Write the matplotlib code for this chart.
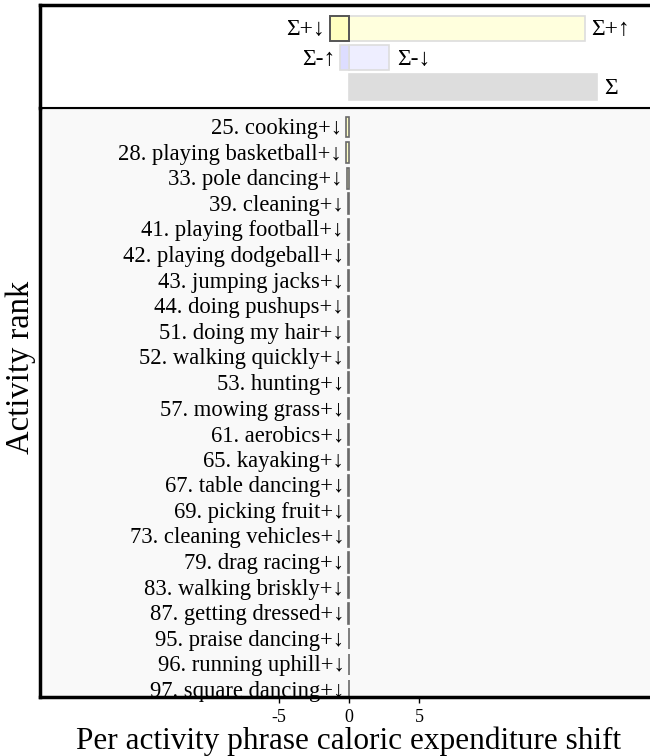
import matplotlib
matplotlib.use("Agg")
import matplotlib.pyplot as plt

plt.rcParams['font.family'] = ['Liberation Serif', 'DejaVu Serif']

# ---- data ----
ranks = [25, 28, 33, 39, 41, 42, 43, 44, 51, 52, 53, 57, 61, 65, 67, 69, 73, 79, 83, 87, 95, 96, 97]
activities = ["cooking", "playing basketball", "pole dancing", "cleaning", "playing football",
              "playing dodgeball", "jumping jacks", "doing pushups", "doing my hair", "walking quickly",
              "hunting", "mowing grass", "aerobics", "kayaking", "table dancing", "picking fruit",
              "cleaning vehicles", "drag racing", "walking briskly", "getting dressed", "praise dancing",
              "running uphill", "square dancing"]
shift_types = ["+↓"] * len(ranks)
shifts = [-0.22, -0.20, -0.13, -0.08, -0.08, -0.07, -0.07, -0.07, -0.06, -0.06, -0.06, -0.05,
          -0.05, -0.05, -0.05, -0.05, -0.04, -0.04, -0.04, -0.04, -0.03, -0.03, -0.03]

sum_pos_down = -1.36
sum_pos_up = 16.86
sum_neg_up = -0.64
sum_neg_down = 2.86
sum_total = 17.72

xticks = [-5, 0, 5]

# ---- figure ----
W, H = 650, 756
fig = plt.figure(figsize=(W / 100, H / 100), dpi=100)

x_left_px = 40
px_per_unit = 14.0
zero_px = 349
xmin = (x_left_px - zero_px) / px_per_unit
xmax = -xmin
ax_w = (xmax - xmin) * px_per_unit / W

main_top, main_bot = 108, 697
ax = fig.add_axes([x_left_px / W, 1 - main_bot / H, ax_w, (main_bot - main_top) / H])
ax.set_facecolor('#f9f9f9')

n = len(ranks)
ys = list(range(n))
ax.barh(ys, shifts, height=0.82, color='#FFFFC4', edgecolor='#6a6a6a', linewidth=1.2)
for y, r, a, t, v in zip(ys, ranks, activities, shift_types, shifts):
    ax.text(min(v, 0) - 0.3, y + 0.06, f"{r}. {a}{t}", ha='right', va='center', fontsize=16.3,
            color='black')

row_px = (690 - 127) / (n - 1)
ylo = -(127 - main_top) / row_px
yhi = (n - 1) + (main_bot - 690) / row_px
ax.set_ylim(yhi, ylo)
ax.set_xlim(xmin, xmax)
ax.set_yticks([])
ax.set_xticks(xticks)
ax.set_xticklabels([str(t) for t in xticks])
ax.tick_params(axis='x', direction='out', length=4, width=1, pad=5, labelsize=13)
for s in ['left', 'bottom']:
    ax.spines[s].set_linewidth(2.5)
for s in ['top', 'right']:
    ax.spines[s].set_linewidth(1.5)
ax.set_ylabel("Activity rank", fontsize=23.5)
ax.yaxis.set_label_coords(-4 / (ax_w * W), (main_bot - 367) / (main_bot - main_top))
ax.set_xlabel("Per activity phrase caloric expenditure shift", fontsize=22.5, labelpad=0)

# ---- summary panel ----
top_top, top_bot = 5, 108
axs = fig.add_axes([x_left_px / W, 1 - top_bot / H, ax_w, (top_bot - top_top) / H])
axs.set_facecolor('white')
axs.set_xlim(xmin, xmax)
hb = 0.86
axs.barh(0, sum_pos_up, height=hb, color='#FFFFDD', edgecolor='#dddddd', linewidth=1.2)
axs.barh(0, sum_pos_down, height=hb, color='#FFFFC0', edgecolor='#555555', linewidth=1.4)
axs.barh(1, sum_neg_down, height=hb, color='#EEEEFF', edgecolor='#dddddd', linewidth=1.2)
axs.barh(1, sum_neg_up, height=hb, color='#DDDDFF', edgecolor='#dddddd', linewidth=1.2)
axs.barh(2, sum_total, height=hb, color='#DDDDDD', edgecolor='#dddddd', linewidth=1.2)
fs = 17
axs.text(sum_pos_down - 0.35, 0.05, "Σ+↓", ha='right', va='center', fontsize=fs)
axs.text(sum_pos_up + 0.45, 0.05, "Σ+↑", ha='left', va='center', fontsize=fs)
axs.text(sum_neg_up - 0.35, 1.05, "Σ-↑", ha='right', va='center', fontsize=fs)
axs.text(sum_neg_down + 0.6, 1.05, "Σ-↓", ha='left', va='center', fontsize=fs)
axs.text(sum_total + 0.5, 2.05, "Σ", ha='left', va='center', fontsize=fs)
row2 = 29.25
axs.set_ylim((top_bot - 28.5) / row2, -(28.5 - top_top) / row2)
axs.set_xticks([])
axs.set_yticks([])
axs.spines['top'].set_linewidth(2.5)
axs.spines['left'].set_linewidth(2.5)
axs.spines['bottom'].set_linewidth(1.5)
axs.spines['right'].set_linewidth(1.5)

fig.savefig("out.png", dpi=100)
